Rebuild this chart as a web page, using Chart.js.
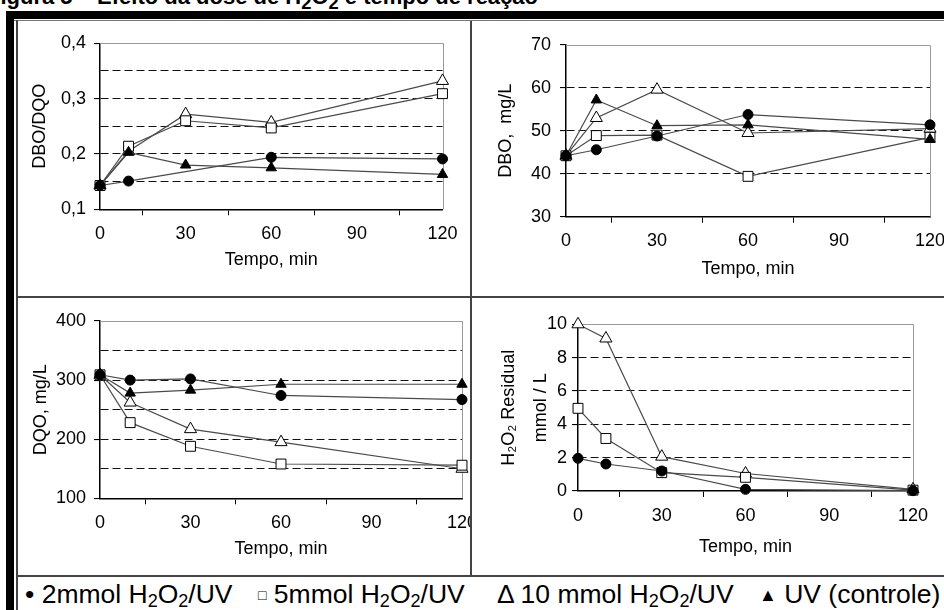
<!DOCTYPE html>
<html>
<head>
<meta charset="utf-8">
<script src="https://cdn.jsdelivr.net/npm/chart.js@4.4.0/dist/chart.umd.min.js"></script>
<style>
  html, body { margin: 0; padding: 0; background: #fff; }
  body { width: 944px; height: 610px; position: relative; overflow: hidden;
         font-family: "Liberation Sans", Arial, sans-serif; color: #000; }
  .fig-title { position: absolute; left: -13px; top: -14px; font-weight: bold;
               font-size: 22px; line-height: 22px; white-space: nowrap; }
  .bar { position: absolute; background: #000; }
  .rule { position: absolute; background: #444; }
  .cell { position: absolute; overflow: hidden; }
  .cell canvas { position: absolute; left: 0; top: 0; }
  .legend-item { position: absolute; top: 579px; font-size: 26.5px; line-height: 30px; white-space: nowrap; }
  .legend-item sub { font-size: 0.68em; vertical-align: -0.22em; line-height: 0; }
  .sym-sq { font-size: 14px; vertical-align: 3px; }
  .sym-tri { font-size: 18px; vertical-align: 2px; }
</style>
</head>
<body>
<div class="fig-title">Figura 5 – Efeito da dose de H<sub>2</sub>O<sub>2</sub> e tempo de reação</div>

<div class="bar" style="left:6px;top:11px;width:960px;height:8px"></div>
<div class="bar" style="left:6px;top:11px;width:8px;height:620px"></div>
<div class="rule" style="left:14px;top:20px;width:940px;height:1px;background:#777"></div>
<div class="rule" style="left:16px;top:20px;width:2px;height:600px"></div>
<div class="rule" style="left:470px;top:21px;width:2px;height:556px"></div>
<div class="rule" style="left:17px;top:296px;width:930px;height:2px"></div>
<div class="rule" style="left:17px;top:575px;width:930px;height:2px"></div>

<div class="cell" id="cell1"><canvas id="chartRazao"></canvas></div>
<div class="cell" id="cell2"><canvas id="chartDbo"></canvas></div>
<div class="cell" id="cell3"><canvas id="chartDqo"></canvas></div>
<div class="cell" id="cell4"><canvas id="chartH2o2"></canvas></div>

<div class="legend-item" style="left:25px">• 2mmol H<sub>2</sub>O<sub>2</sub>/UV</div>
<div class="legend-item" style="left:258px"><span class="sym-sq">□</span> 5mmol H<sub>2</sub>O<sub>2</sub>/UV</div>
<div class="legend-item" style="left:497px">Δ 10 mmol H<sub>2</sub>O<sub>2</sub>/UV</div>
<div class="legend-item" style="left:759px"><span class="sym-tri">▲</span> UV (controle)</div>

<script>
// ========== DATA ==========
const tempos = [0, 10, 30, 60, 120];

// DBO/DQO
const razao2mmol  = [0.143, 0.151, null, 0.194, 0.191];
const razao5mmol  = [0.143, 0.214, 0.260, 0.247, 0.309];
const razao10mmol = [0.143, 0.205, 0.272, 0.257, 0.332];
const razaoUV     = [0.143, 0.203, 0.180, 0.175, 0.163];

// DBO, mg/L
const dbo2mmol  = [44.2, 45.6, 48.8, 53.8, 51.4];
const dbo5mmol  = [44.2, 48.9, 49.0, 39.4, 48.5];
const dbo10mmol = [44.2, 53.0, 59.6, 49.5, 50.5];
const dboUV     = [44.2, 57.2, 51.2, 51.4, 48.0];

// DQO, mg/L
const dqo2mmol  = [309, 300, 302, 274, 267];
const dqo5mmol  = [309, 228, 188, 158, 156];
const dqo10mmol = [309, 262, 217, 195, 150];
const dqoUV     = [309, 278, 283, 293, 293];

// H2O2 residual, mmol/L
const h2o2_2mmol  = [1.96, 1.62, 1.20, 0.10, 0.02];
const h2o2_5mmol  = [4.96, 3.15, 1.10, 0.82, 0.05];
const h2o2_10mmol = [10.0, 9.15, 2.06, 1.05, 0.10];

const xTickLabels = [0, 30, 60, 90, 120];

// ========== STYLE ==========
const FONT = "'Liberation Sans', Arial, sans-serif";
const markers = {
  mmol2:  { pointStyle: 'circle',   pointRadius: 5, pointBackgroundColor: '#000', order: 0 },
  mmol5:  { pointStyle: 'rect',     pointRadius: 7, pointBackgroundColor: '#fff', order: 1 },
  mmol10: { pointStyle: 'triangle', pointRadius: 7, pointBackgroundColor: '#fff', order: 1 },
  uv:     { pointStyle: 'triangle', pointRadius: 6, pointBackgroundColor: '#000', order: 0 }
};

function toPoints(values) {
  return tempos.map((t, i) => ({ x: t, y: values[i] })).filter(p => p.y !== null);
}

function serie(values, mk) {
  return Object.assign({
    data: toPoints(values),
    borderColor: '#4a4a4a',
    borderWidth: 1.2,
    pointBorderColor: '#000',
    pointBorderWidth: 1,
    pointHoverRadius: 0,
    clip: false
  }, mk);
}

// top and right edge of the plot area in light gray
const plotFrame = {
  id: 'plotFrame',
  beforeDatasetsDraw(chart) {
    const { ctx, chartArea: a } = chart;
    ctx.save();
    ctx.strokeStyle = '#999';
    ctx.lineWidth = 1;
    ctx.beginPath();
    ctx.moveTo(a.left, Math.round(a.top) + 0.5);
    ctx.lineTo(Math.round(a.right) + 0.5, Math.round(a.top) + 0.5);
    ctx.lineTo(Math.round(a.right) + 0.5, a.bottom);
    ctx.stroke();
    ctx.restore();
  }
};

// ========== PANEL BUILDER ==========
function makePanel(canvasId, cellId, cell, area, p) {
  const wrap = document.getElementById(cellId);
  wrap.style.left = cell.x + 'px';
  wrap.style.top = cell.y + 'px';
  wrap.style.width = cell.w + 'px';
  wrap.style.height = cell.h + 'px';

  const cw = cell.w + 40, ch = cell.h;
  const canvas = document.getElementById(canvasId);
  canvas.width = cw; canvas.height = ch;
  canvas.style.width = cw + 'px'; canvas.style.height = ch + 'px';

  const l = area.l - cell.x, r = area.r - cell.x, t = area.t - cell.y, b = area.b - cell.y;
  const yLH = 18 * p.yLineHeight;
  const padLeft = p.yTitleX - cell.x - yLH / 2;
  const xLH = 18 * 1.2;
  const padBottom = ch - (p.xTitleY - cell.y) - xLH / 2;
  const yWidth = l - padLeft;
  const xHeight = ch - padBottom - b;

  new Chart(canvas.getContext('2d'), {
    type: 'line',
    data: { datasets: p.datasets },
    options: {
      responsive: false,
      animation: false,
      devicePixelRatio: 1,
      layout: { padding: { left: padLeft, top: t, right: cw - r, bottom: padBottom } },
      plugins: { legend: { display: false }, tooltip: { enabled: false } },
      scales: {
        x: {
          type: 'linear', min: 0, max: 120,
          afterBuildTicks: s => { s.ticks = [0, 15, 30, 45, 60, 75, 90, 105, 120].map(v => ({ value: v })); },
          ticks: {
            autoSkip: false, maxRotation: 0, padding: 8, color: '#000',
            font: { family: FONT, size: 18 },
            callback: v => xTickLabels.includes(v) ? String(v) : ''
          },
          grid: {
            drawOnChartArea: false, drawTicks: true, tickLength: 6, tickWidth: 1,
            tickColor: c => (c.tick && c.tick.value % 30 !== 0) ? '#000' : 'rgba(0,0,0,0)'
          },
          border: { color: '#000', width: 1.5 },
          title: { display: true, text: 'Tempo, min', color: '#000', padding: 0,
                   font: { family: FONT, size: 18, lineHeight: 1.2 } },
          afterFit: s => { s.height = xHeight; }
        },
        y: {
          type: 'linear', min: p.yMin, max: p.yMax,
          ticks: {
            stepSize: p.yStep, autoSkip: false, padding: p.yTickPad, color: '#000',
            font: { family: FONT, size: 18 },
            callback: v => p.isLabeled(v) ? p.fmt(v) : ''
          },
          grid: {
            drawOnChartArea: true, drawTicks: true, tickLength: 6, lineWidth: 1.1,
            color: c => (c.tick && c.tick.value > p.yMin + 1e-9 && c.tick.value < p.yMax - 1e-9) ? '#111' : 'rgba(0,0,0,0)',
            tickColor: c => (c.tick && p.isLabeled(c.tick.value)) ? '#000' : 'rgba(0,0,0,0)'
          },
          border: { color: '#000', width: 1.5, dash: [8, 4] },
          title: { display: true, text: p.yTitle, color: '#000', padding: 0,
                   font: { family: FONT, size: 18, lineHeight: p.yLineHeight } },
          afterFit: s => { s.width = yWidth; }
        }
      }
    },
    plugins: [plotFrame]
  });
}

const near = (v, step) => Math.abs(v / step - Math.round(v / step)) < 1e-6;

// ========== PANELS ==========
makePanel('chartRazao', 'cell1',
  { x: 17, y: 21, w: 453, h: 275 },
  { l: 100, r: 442.5, t: 43.3, b: 209.3 },
  {
    yMin: 0.1, yMax: 0.4, yStep: 0.05, yTickPad: 8,
    isLabeled: v => near(v, 0.1), fmt: v => v.toFixed(1).replace('.', ','),
    yTitle: 'DBO/DQO', yLineHeight: 1.2, yTitleX: 40, xTitleY: 260,
    datasets: [
      serie(razao2mmol, markers.mmol2), serie(razao5mmol, markers.mmol5),
      serie(razao10mmol, markers.mmol10), serie(razaoUV, markers.uv)
    ]
  });

makePanel('chartDbo', 'cell2',
  { x: 472, y: 21, w: 472, h: 275 },
  { l: 566, r: 930, t: 45, b: 216.7 },
  {
    yMin: 30, yMax: 70, yStep: 10, yTickPad: 9,
    isLabeled: v => true, fmt: v => String(v),
    yTitle: 'DBO,  mg/L', yLineHeight: 1.2, yTitleX: 506, xTitleY: 269,
    datasets: [
      serie(dbo2mmol, markers.mmol2), serie(dbo5mmol, markers.mmol5),
      serie(dbo10mmol, markers.mmol10), serie(dboUV, markers.uv)
    ]
  });

makePanel('chartDqo', 'cell3',
  { x: 17, y: 298, w: 453, h: 277 },
  { l: 100, r: 462, t: 321, b: 498.3 },
  {
    yMin: 100, yMax: 400, yStep: 50, yTickPad: 8,
    isLabeled: v => near(v, 100), fmt: v => String(v),
    yTitle: 'DQO, mg/L', yLineHeight: 1.2, yTitleX: 41, xTitleY: 549,
    datasets: [
      serie(dqo2mmol, markers.mmol2), serie(dqo5mmol, markers.mmol5),
      serie(dqo10mmol, markers.mmol10), serie(dqoUV, markers.uv)
    ]
  });

makePanel('chartH2o2', 'cell4',
  { x: 472, y: 298, w: 472, h: 277 },
  { l: 578, r: 913, t: 324.3, b: 491 },
  {
    yMin: 0, yMax: 10, yStep: 2, yTickPad: 5,
    isLabeled: v => true, fmt: v => String(v),
    yTitle: ['H₂O₂ Residual', 'mmol / L'], yLineHeight: 1.8, yTitleX: 509, xTitleY: 547.5,
    datasets: [
      serie(h2o2_2mmol, markers.mmol2), serie(h2o2_5mmol, markers.mmol5),
      serie(h2o2_10mmol, markers.mmol10)
    ]
  });
</script>
</body>
</html>
